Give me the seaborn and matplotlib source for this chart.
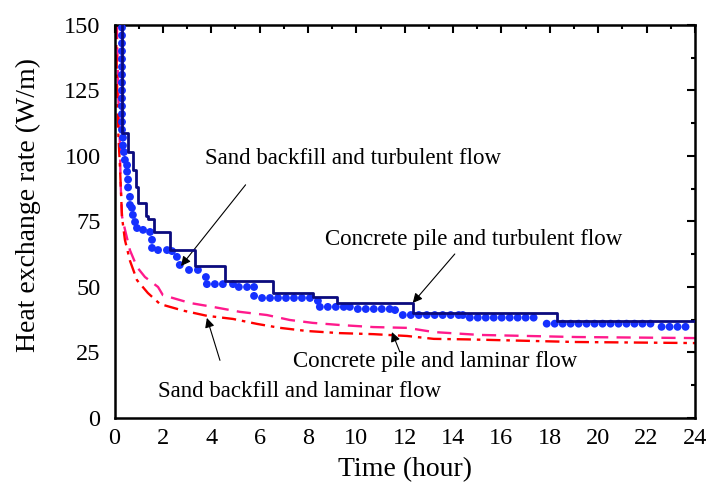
import numpy as np
import pandas as pd
import matplotlib
matplotlib.use("Agg")
import matplotlib.pyplot as plt
import seaborn as sns
from matplotlib.ticker import MultipleLocator

# ---- data ----
# Concrete pile and turbulent flow (solid stepped line)
cp_turb_t = [0.30, 0.31, 0.56, 0.76, 0.87, 0.97, 1.30, 1.38, 1.63, 2.29, 3.33,
             4.57, 6.55, 8.20, 9.19, 12.33, 18.28, 24.0]
cp_turb_v = [160, 108.8, 101.5, 94.5, 88.0, 82.0, 77.0, 76.0, 71.0, 64.0, 58.0,
             52.3, 47.7, 46.2, 43.8, 40.0, 36.9, 36.9]

# Sand backfill and turbulent flow (dotted markers)
sb_turb_t = [0.31, 0.31, 0.31, 0.31, 0.31, 0.31, 0.31, 0.31, 0.31, 0.31, 0.31, 0.31, 0.31, 0.31,
             0.35, 0.35, 0.39, 0.43, 0.52, 0.52, 0.56, 0.56, 0.64, 0.64, 0.72, 0.76, 0.85, 0.93,
             1.18, 1.47, 1.55, 1.55, 1.80, 2.17, 2.38, 2.58, 2.70, 3.08, 3.45, 3.78, 3.82,
             4.15, 4.48, 4.90, 5.14, 5.48, 5.77, 5.77, 6.10, 6.43, 6.76, 7.09, 7.42, 7.75,
             8.08, 8.41, 8.49, 8.82, 9.15, 9.48, 9.73, 10.06, 10.39, 10.72, 11.05, 11.38,
             11.60, 11.92, 12.25, 12.58, 12.91, 13.24, 13.57, 13.90, 14.23, 14.40, 14.69,
             15.02, 15.35, 15.68, 16.01, 16.34, 16.67, 17.00, 17.33, 17.87, 18.20, 18.53,
             18.86, 19.19, 19.52, 19.85, 20.18, 20.51, 20.84, 21.17, 21.50, 21.83, 22.16,
             22.62, 22.95, 23.28, 23.61]
sb_turb_v = [149, 146, 143, 140, 137, 134, 131, 128, 125, 122, 119, 116, 113, 110,
             107, 104, 101.5, 98.5, 96.5, 94.0, 91.0, 88.0, 84.4, 81.3, 80.2, 77.5, 74.8, 72.5,
             71.8, 71.0, 68.0, 64.9, 64.1, 64.1, 63.7, 61.5, 58.4, 56.5, 56.5, 53.8, 51.1,
             51.1, 51.1, 51.1, 50.0, 50.0, 50.0, 46.6, 45.8, 45.8, 45.8, 45.8, 45.8, 45.8,
             45.8, 44.7, 42.4, 42.4, 42.4, 42.4, 42.4, 41.6, 41.6, 41.6, 41.6, 41.6,
             41.2, 39.3, 39.3, 39.3, 39.3, 39.3, 39.3, 39.3, 39.3, 39.3, 38.3,
             38.3, 38.3, 38.3, 38.3, 38.3, 38.3, 38.3, 38.3, 36.0, 36.0, 36.0,
             36.0, 36.0, 36.0, 36.0, 36.0, 36.0, 36.0, 36.0, 36.0, 36.0, 36.0,
             34.8, 34.8, 34.8, 34.8]

# Concrete pile and laminar flow (pink dashed)
cp_lam_t = [0.10, 0.15, 0.23, 0.25, 0.31, 0.43, 0.64, 0.93, 1.26, 1.80, 2.00, 3.12, 4.07,
            5.19, 6.30, 7.25, 8.20, 9.30, 10.70, 12.10, 13.20, 15.10, 19.10, 24.0]
cp_lam_v = [150, 125, 102, 90, 77, 72, 64, 57.6, 53.8, 50.0, 46.9, 43.9, 42.4,
            40.5, 39.3, 37.4, 36.3, 35.5, 34.7, 34.4, 32.8, 31.7, 30.9, 30.5]

# Sand backfill and laminar flow (red dash-dot)
sb_lam_t = [0.06, 0.10, 0.15, 0.23, 0.31, 0.43, 0.64, 0.93, 1.38, 1.88, 2.83, 3.82, 4.90,
            5.90, 6.84, 7.96, 9.30, 10.70, 12.10, 13.20, 14.60, 19.10, 24.0]
sb_lam_v = [150, 130, 110, 95, 76.7, 68, 60, 52.6, 47.7, 43.5, 41.0, 39.0, 37.8,
            35.9, 34.4, 33.2, 32.4, 32.0, 31.3, 30.2, 30.0, 29.0, 28.6]

x_ticks = [0, 2, 4, 6, 8, 10, 12, 14, 16, 18, 20, 22, 24]
y_ticks = [0, 25, 50, 75, 100, 125, 150]

labels = ["Sand backfill and turbulent flow", "Concrete pile and turbulent flow",
          "Concrete pile and laminar flow", "Sand backfill and laminar flow"]
label_xy = [(3.74, 99.0), (8.7, 68.0), (7.38, 21.4), (1.8, 10.3)]
arrow_tip = [(2.75, 58.0), (12.33, 43.9), (11.47, 32.8), (3.82, 38.2)]
arrow_tail = [(5.42, 89.0), (14.07, 62.6), (11.8, 25.2), (4.36, 22.0)]

# ---- plotting ----
sns.set_style("white")
plt.rcParams['font.family'] = ['Liberation Serif', 'DejaVu Serif']
plt.rcParams['mathtext.fontset'] = 'stix'
plt.rcParams['text.color'] = 'black'
plt.rcParams['axes.labelcolor'] = 'black'
plt.rcParams['xtick.color'] = 'black'
plt.rcParams['ytick.color'] = 'black'

fig = plt.figure(figsize=(7.09, 4.87), dpi=100)
ax = fig.add_axes([0.1615, 0.1417, 0.8187, 0.807])

df1 = pd.DataFrame({"t": cp_turb_t, "v": cp_turb_v})
sns.lineplot(data=df1, x="t", y="v", ax=ax, color="#0b0b7e", linewidth=2.0,
             drawstyle="steps-post", sort=False, estimator=None, zorder=4)

df2 = pd.DataFrame({"t": sb_turb_t, "v": sb_turb_v})
sns.scatterplot(data=df2, x="t", y="v", ax=ax, color="#1530ff", s=32,
                edgecolor="none", linewidth=0, zorder=3)

df3 = pd.DataFrame({"t": cp_lam_t, "v": cp_lam_v})
sns.lineplot(data=df3, x="t", y="v", ax=ax, color="#ff1a8c", linewidth=1.7,
             sort=False, estimator=None, zorder=2)
ax.lines[-1].set_dashes([6, 3.5])

df4 = pd.DataFrame({"t": sb_lam_t, "v": sb_lam_v})
sns.lineplot(data=df4, x="t", y="v", ax=ax, color="#ff0000", linewidth=1.7,
             sort=False, estimator=None, zorder=2)
ax.lines[-1].set_dashes([6, 2.5, 1.5, 2.5])

for lab, xy, tip, tail in zip(labels, label_xy, arrow_tip, arrow_tail):
    ax.text(xy[0], xy[1], lab, fontsize=16.5, ha="left", va="center", color="black")
    ax.annotate("", xy=tip, xytext=tail,
                arrowprops=dict(arrowstyle="-|>", color="black", lw=0.8,
                                mutation_scale=14, shrinkA=0, shrinkB=0))

ax.set_xlim(0, 24)
ax.set_ylim(0, 150)
ax.set_xticks(x_ticks)
ax.set_yticks(y_ticks)
ax.xaxis.set_minor_locator(MultipleLocator(1))
ax.yaxis.set_minor_locator(MultipleLocator(12.5))
ax.tick_params(which="both", direction="in", top=True, right=True,
               labelsize=17.5, width=1.5, color="black", labelcolor="black")
ax.tick_params(axis="x", which="both", pad=7)
ax.tick_params(axis="y", which="both", pad=10)
ax.tick_params(which="major", length=6)
ax.tick_params(which="minor", length=3)
for s in ax.spines.values():
    s.set_linewidth(1.8)
    s.set_color("black")
ax.set_xlabel("Time (hour)", fontsize=20, labelpad=6, color="black")
ax.set_ylabel("Heat exchange rate (W/m)", fontsize=20, color="black")
ax.yaxis.set_label_coords(-0.127, 0.542)

fig.savefig("out.png", dpi=100)
